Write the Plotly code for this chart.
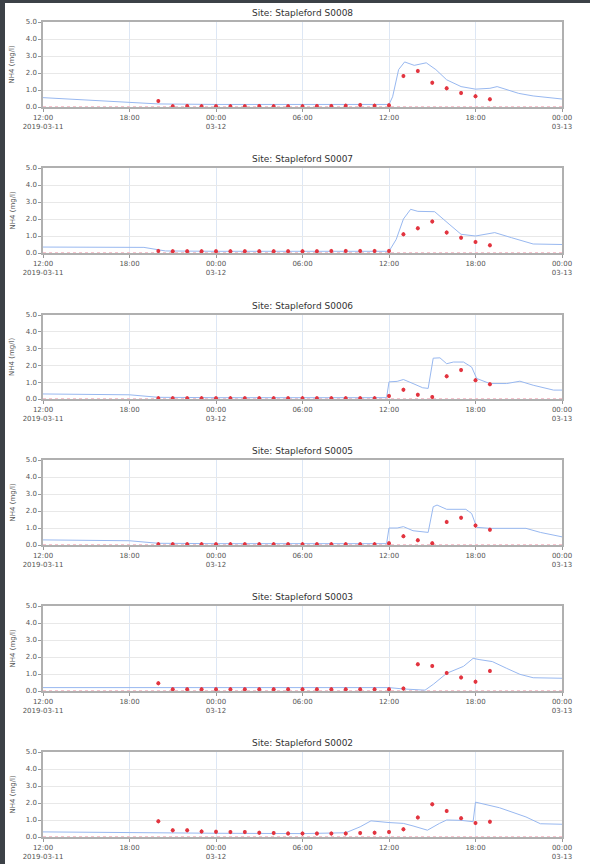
import plotly.graph_objects as go

# ---------------- data ----------------
sites = ["Site: Stapleford S0008", "Site: Stapleford S0007", "Site: Stapleford S0006",
         "Site: Stapleford S0005", "Site: Stapleford S0003", "Site: Stapleford S0002"]

# observed (hourly samples, 2019-03-11 20:00 .. 2019-03-12 19:00)
obs_times = (["2019-03-11 %02d:00" % h for h in range(20, 24)] +
             ["2019-03-12 %02d:00" % h for h in range(0, 20)])

obs_s0008 = [0.35, 0.05, 0.06, 0.05, 0.05, 0.05, 0.05, 0.06, 0.05, 0.05, 0.05, 0.06,
             0.06, 0.08, 0.12, 0.08, 0.10, 1.82, 2.12, 1.43, 1.10, 0.82, 0.63, 0.45]
obs_s0007 = [0.12, 0.10, 0.10, 0.10, 0.10, 0.10, 0.10, 0.10, 0.10, 0.10, 0.10, 0.10,
             0.12, 0.12, 0.12, 0.12, 0.12, 1.10, 1.45, 1.85, 1.20, 0.90, 0.65, 0.45]
obs_s0006 = [0.05, 0.05, 0.05, 0.05, 0.05, 0.05, 0.05, 0.05, 0.05, 0.05, 0.05, 0.05,
             0.05, 0.05, 0.05, 0.05, 0.18, 0.55, 0.25, 0.12, 1.35, 1.72, 1.12, 0.88]
obs_s0005 = [0.05, 0.05, 0.05, 0.05, 0.05, 0.05, 0.05, 0.05, 0.05, 0.05, 0.05, 0.05,
             0.05, 0.05, 0.05, 0.05, 0.10, 0.52, 0.28, 0.10, 1.36, 1.60, 1.14, 0.90]
obs_s0003 = [0.45, 0.10, 0.10, 0.10, 0.10, 0.10, 0.10, 0.10, 0.10, 0.10, 0.10, 0.10,
             0.10, 0.10, 0.10, 0.10, 0.10, 0.14, 1.57, 1.47, 1.06, 0.80, 0.55, 1.18]
obs_s0002 = [0.92, 0.39, 0.39, 0.33, 0.31, 0.29, 0.29, 0.25, 0.23, 0.21, 0.20, 0.20,
             0.20, 0.21, 0.23, 0.25, 0.29, 0.45, 1.15, 1.92, 1.53, 1.11, 0.82, 0.90]

# modelled NH4 (blue line)
mod_t_s0008 = ["2019-03-11 12:00", "2019-03-11 14:00", "2019-03-11 16:00", "2019-03-11 18:00",
               "2019-03-11 20:00", "2019-03-12 00:00", "2019-03-12 06:00", "2019-03-12 12:00",
               "2019-03-12 12:15", "2019-03-12 12:40", "2019-03-12 13:05", "2019-03-12 13:45",
               "2019-03-12 14:35", "2019-03-12 15:15", "2019-03-12 16:00", "2019-03-12 17:00",
               "2019-03-12 18:00", "2019-03-12 19:00", "2019-03-12 19:30", "2019-03-12 20:15",
               "2019-03-12 21:00", "2019-03-12 22:00", "2019-03-12 23:00", "2019-03-13 00:00"]
mod_v_s0008 = [0.55, 0.45, 0.35, 0.25, 0.18, 0.15, 0.15, 0.15, 0.6, 2.2, 2.65, 2.45,
               2.6, 2.2, 1.6, 1.2, 1.05, 1.1, 1.2, 1.0, 0.8, 0.65, 0.55, 0.47]

mod_t_s0007 = ["2019-03-11 12:00", "2019-03-11 19:00", "2019-03-11 20:30", "2019-03-12 00:00",
               "2019-03-12 12:00", "2019-03-12 12:30", "2019-03-12 13:00", "2019-03-12 13:30",
               "2019-03-12 14:00", "2019-03-12 15:10", "2019-03-12 16:10", "2019-03-12 17:00",
               "2019-03-12 18:00", "2019-03-12 19:20", "2019-03-12 20:30", "2019-03-12 22:00",
               "2019-03-13 00:00"]
mod_v_s0007 = [0.35, 0.33, 0.12, 0.10, 0.10, 0.8, 2.0, 2.57, 2.45, 2.43, 1.7, 1.1,
               1.0, 1.2, 0.9, 0.53, 0.5]

mod_t_s0006 = ["2019-03-11 12:00", "2019-03-11 18:00", "2019-03-11 20:00", "2019-03-12 00:00",
               "2019-03-12 11:50", "2019-03-12 12:00", "2019-03-12 12:34", "2019-03-12 13:00",
               "2019-03-12 13:40", "2019-03-12 14:20", "2019-03-12 14:43", "2019-03-12 15:04",
               "2019-03-12 15:32", "2019-03-12 16:00", "2019-03-12 16:28", "2019-03-12 17:10",
               "2019-03-12 17:44", "2019-03-12 18:05", "2019-03-12 19:00", "2019-03-12 20:10",
               "2019-03-12 21:05", "2019-03-12 22:00", "2019-03-12 23:25", "2019-03-13 00:00"]
mod_v_s0006 = [0.3, 0.25, 0.1, 0.08, 0.08, 1.02, 1.05, 1.16, 0.92, 0.67, 0.63, 2.43,
               2.45, 2.1, 2.2, 2.2, 1.9, 1.22, 0.92, 0.92, 1.06, 0.82, 0.53, 0.53]

mod_t_s0005 = ["2019-03-11 12:00", "2019-03-11 18:00", "2019-03-11 20:00", "2019-03-12 00:00",
               "2019-03-12 11:50", "2019-03-12 12:00", "2019-03-12 12:34", "2019-03-12 13:00",
               "2019-03-12 13:40", "2019-03-12 14:43", "2019-03-12 15:04", "2019-03-12 15:20",
               "2019-03-12 16:00", "2019-03-12 17:20", "2019-03-12 17:44", "2019-03-12 18:05",
               "2019-03-12 19:00", "2019-03-12 21:30", "2019-03-12 22:30", "2019-03-13 00:00"]
mod_v_s0005 = [0.3, 0.25, 0.1, 0.08, 0.08, 1.0, 1.0, 1.08, 0.84, 0.74, 2.25, 2.35,
               2.1, 2.1, 1.85, 1.04, 0.98, 0.98, 0.74, 0.48]

mod_t_s0003 = ["2019-03-11 12:00", "2019-03-12 00:00", "2019-03-12 12:00", "2019-03-12 13:00",
               "2019-03-12 14:30", "2019-03-12 15:05", "2019-03-12 16:00", "2019-03-12 17:10",
               "2019-03-12 17:50", "2019-03-12 18:15", "2019-03-12 19:10", "2019-03-12 20:10",
               "2019-03-12 21:05", "2019-03-12 22:00", "2019-03-13 00:00"]
mod_v_s0003 = [0.2, 0.2, 0.2, 0.12, 0.05, 0.4, 1.04, 1.45, 1.92, 1.85, 1.73, 1.33,
               0.98, 0.78, 0.75]

mod_t_s0002 = ["2019-03-11 12:00", "2019-03-11 18:00", "2019-03-12 00:00", "2019-03-12 06:00",
               "2019-03-12 09:00", "2019-03-12 10:00", "2019-03-12 10:45", "2019-03-12 12:00",
               "2019-03-12 13:00", "2019-03-12 13:40", "2019-03-12 14:40", "2019-03-12 15:30",
               "2019-03-12 16:00", "2019-03-12 17:00", "2019-03-12 17:50", "2019-03-12 18:00",
               "2019-03-12 18:30", "2019-03-12 19:40", "2019-03-12 21:30", "2019-03-12 22:30",
               "2019-03-13 00:00"]
mod_v_s0002 = [0.3, 0.25, 0.22, 0.2, 0.25, 0.6, 0.95, 0.85, 0.8, 0.65, 0.4, 0.8,
               1.0, 0.98, 0.9, 2.05, 1.95, 1.72, 1.18, 0.78, 0.75]

# baseline (pink dotted) series
base_times = ["2019-03-11 12:00", "2019-03-13 00:00"]
base_vals = [0.03, 0.03]

obs_all = [obs_s0008, obs_s0007, obs_s0006, obs_s0005, obs_s0003, obs_s0002]
mod_t_all = [mod_t_s0008, mod_t_s0007, mod_t_s0006, mod_t_s0005, mod_t_s0003, mod_t_s0002]
mod_v_all = [mod_v_s0008, mod_v_s0007, mod_v_s0006, mod_v_s0005, mod_v_s0003, mod_v_s0002]

x_tickvals = ["2019-03-11 12:00", "2019-03-11 18:00", "2019-03-12 00:00", "2019-03-12 06:00",
              "2019-03-12 12:00", "2019-03-12 18:00", "2019-03-13 00:00"]
x_ticktext = ["12:00<br>2019-03-11", "18:00", "00:00<br>03-12", "06:00", "12:00", "18:00",
              "00:00<br>03-13"]
y_tickvals = [0, 1, 2, 3, 4, 5]
y_ticktext = ["0.0", "1.0", "2.0", "3.0", "4.0", "5.0"]
y_title = "NH4 (mg/l)"

# ---------------- layout geometry ----------------
W, H = 590, 864
left_px, right_px = 43, 562
tops = [22, 168, 315, 460, 606, 752]
bottoms = [107, 253, 399, 545, 691, 837]

fig = go.Figure()
layout = dict(
    template="none",
    width=W, height=H, margin=dict(l=0, r=0, t=0, b=0, pad=0), autosize=False,
    paper_bgcolor="#3c4147", plot_bgcolor="white", showlegend=False,
    font=dict(family="DejaVu Sans", size=7, color="#555555"),
    shapes=[dict(type="rect", xref="paper", yref="paper", x0=5 / W, x1=1, y0=0, y1=1 - 3 / H,
                 fillcolor="white", line=dict(width=0), layer="below")],
    annotations=[],
)

for i in range(6):
    sfx = "" if i == 0 else str(i + 1)
    xa, ya = "x" + sfx, "y" + sfx
    y0 = 1 - bottoms[i] / H
    y1 = 1 - tops[i] / H
    layout["xaxis" + sfx] = dict(
        domain=[left_px / W, right_px / W], anchor=ya, automargin=False,
        type="date", range=["2019-03-11 12:00", "2019-03-13 00:00"],
        tickvals=x_tickvals, ticktext=x_ticktext, tickangle=0,
        showgrid=True, gridcolor="#dde7f5", gridwidth=1,
        showline=True, linecolor="#b0b0b0", linewidth=1.5, mirror=True,
        ticks="outside", ticklen=3, tickcolor="#999999",
        tickfont=dict(size=7, color="#555555"), zeroline=False,
    )
    layout["yaxis" + sfx] = dict(
        domain=[y0, y1], anchor=xa, range=[0, 5], automargin=False,
        tickvals=y_tickvals, ticktext=y_ticktext,
        showgrid=True, gridcolor="#e8e8e8", gridwidth=1,
        showline=True, linecolor="#b0b0b0", linewidth=1.5, mirror=True,
        ticks="outside", ticklen=3, tickcolor="#999999",
        tickfont=dict(size=7, color="#555555"), zeroline=False,
    )
    layout["annotations"].append(dict(
        text=sites[i], xref="paper", yref="paper", x=(left_px + right_px) / 2 / W,
        y=1 - (tops[i] - 2) / H, xanchor="center", yanchor="bottom", showarrow=False,
        font=dict(size=9, color="#333333", family="DejaVu Sans")))
    layout["annotations"].append(dict(
        text=y_title, xref="paper", yref="paper", x=12 / W, y=(y0 + y1) / 2,
        xanchor="center", yanchor="middle", textangle=-90, showarrow=False,
        font=dict(size=7, color="#555555", family="DejaVu Sans")))

    fig.add_trace(go.Scatter(x=base_times, y=base_vals, mode="lines", xaxis=xa, yaxis=ya,
                             line=dict(color="#f6c4ce", width=1, dash="dot"),
                             hoverinfo="skip"))
    fig.add_trace(go.Scatter(x=mod_t_all[i], y=mod_v_all[i], mode="lines", xaxis=xa, yaxis=ya,
                             line=dict(color="#98b8f0", width=1), name="modelled"))
    fig.add_trace(go.Scatter(x=obs_times, y=obs_all[i], mode="markers", xaxis=xa, yaxis=ya,
                             marker=dict(color="#e2343f", size=4, symbol="circle"),
                             error_y=dict(type="constant", value=0.12, thickness=1, width=0,
                                          color="#e2343f"),
                             name="observed"))

fig.update_layout(**layout)
fig.write_html("out.html")
